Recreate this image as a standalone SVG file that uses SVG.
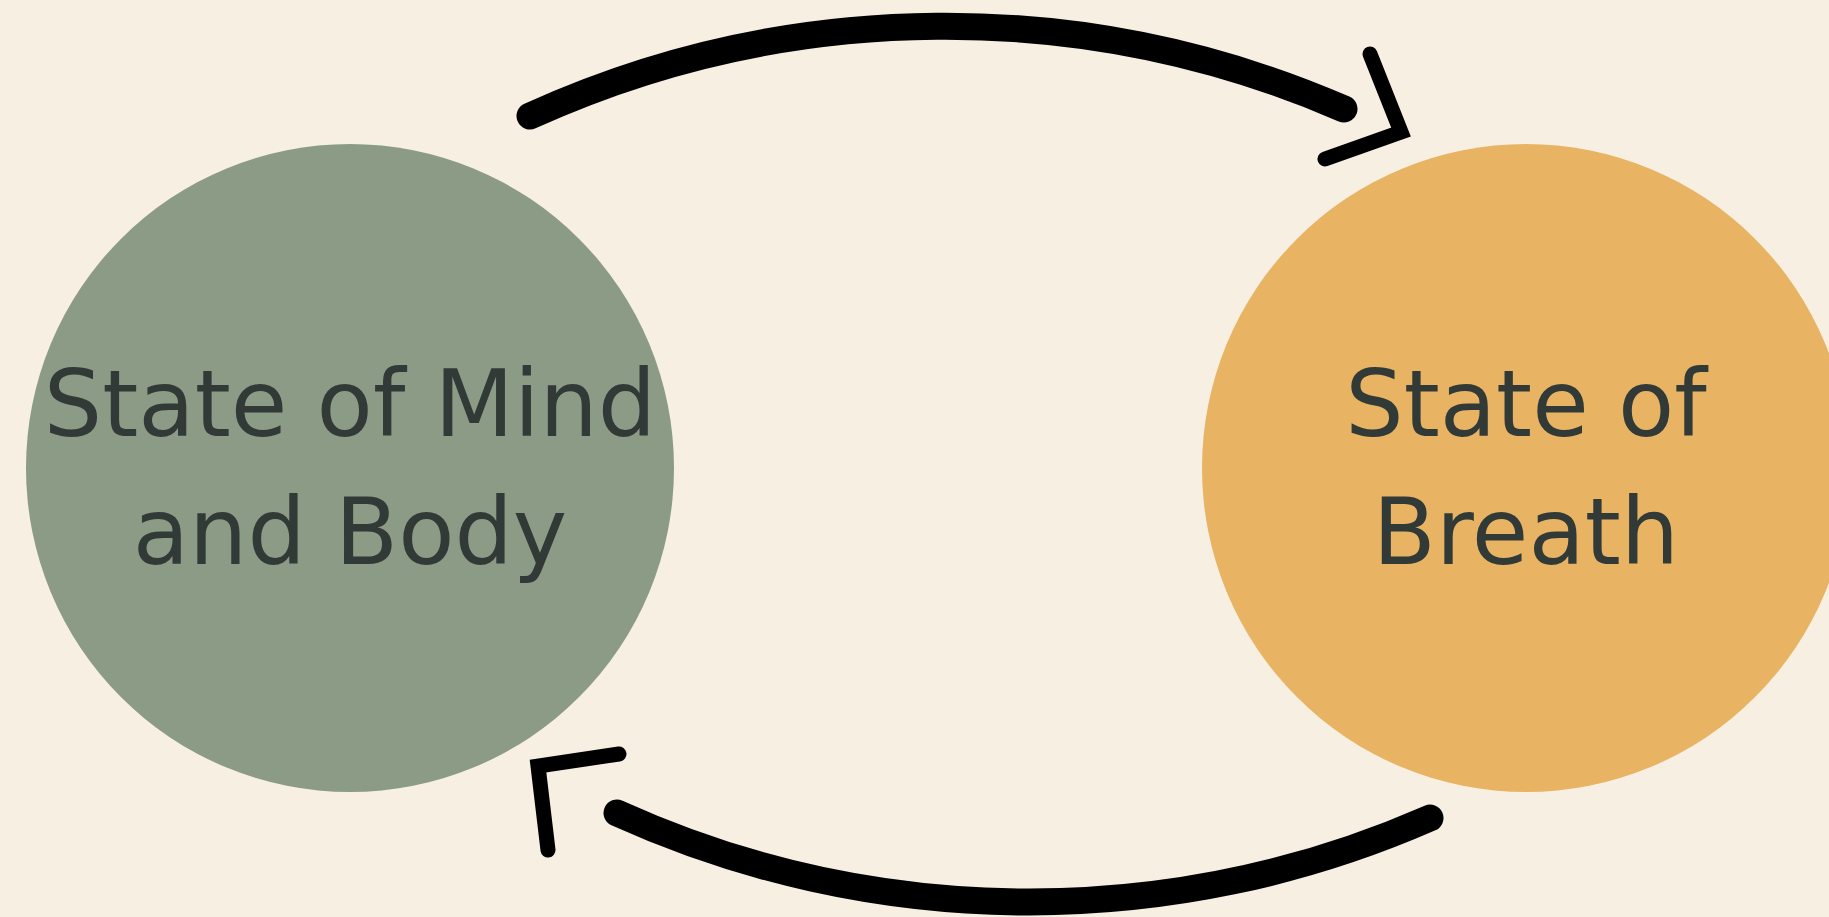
<svg xmlns="http://www.w3.org/2000/svg" width="1829" height="917" viewBox="0 0 1829 917">
  <style>
    .label { font-family: "DejaVu Sans", Verdana, sans-serif; font-size: 92px; fill: #323a37; text-anchor: middle; }
    .arc { fill: none; stroke: #000; stroke-width: 27; stroke-linecap: round; }
    .head { fill: none; stroke: #000; stroke-width: 15; stroke-linecap: round; stroke-linejoin: miter; stroke-miterlimit: 10; }
  </style>
  <rect x="0" y="0" width="1829" height="917" fill="#f7efe2"/>
  <g id="node-mind-body">
    <circle cx="350" cy="468" r="324" fill="#8c9b86"/>
    <text class="label" x="350" y="436">State of Mind</text>
    <text class="label" x="350" y="564">and Body</text>
  </g>
  <g id="node-breath">
    <circle cx="1526" cy="468" r="324" fill="#e8b464"/>
    <text class="label" x="1526" y="436">State of</text>
    <text class="label" x="1526" y="564">Breath</text>
  </g>
  <g id="connectors">
    <g id="edge-mind-to-breath">
      <path class="arc" d="M 530 116 A 1003.5 1003.5 0 0 1 1344 109"/>
      <polyline class="head" points="1370,54 1401,132 1325,159"/>
    </g>
    <g id="edge-breath-to-mind">
      <path class="arc" d="M 1430 818 A 999 999 0 0 1 617 813"/>
      <polyline class="head" points="619,754 538,766 548,850"/>
    </g>
  </g>
</svg>
